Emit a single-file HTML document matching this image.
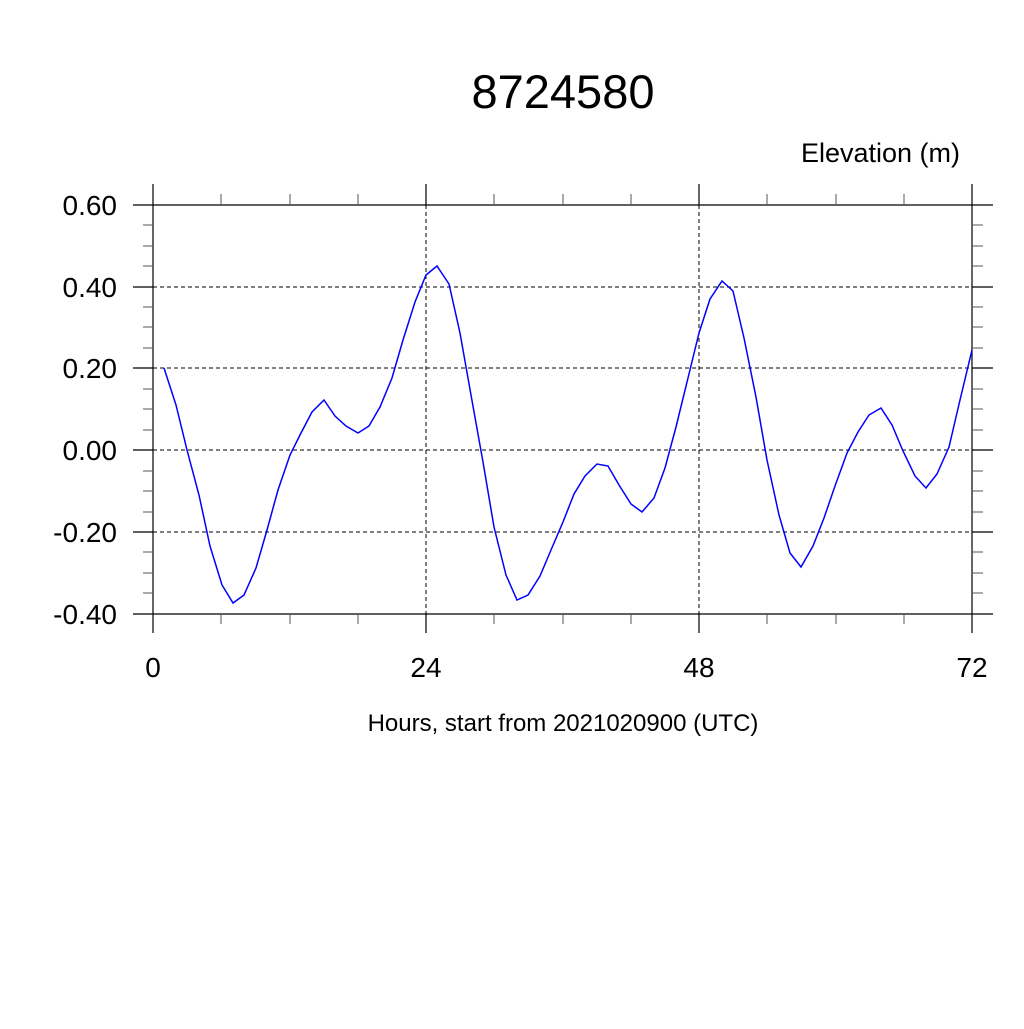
<!DOCTYPE html>
<html><head><style>body{margin:0;background:#fff}</style></head><body>
<svg width="1024" height="1024" xmlns="http://www.w3.org/2000/svg" font-family="Liberation Sans, sans-serif">
<rect width="1024" height="1024" fill="#fff"/>
<text x="563" y="108" font-size="47" text-anchor="middle">8724580</text>
<text x="960" y="162" font-size="27" text-anchor="end">Elevation (m)</text>
<g stroke="#000" stroke-width="1" stroke-dasharray="4,3">
<line x1="153" y1="287" x2="972" y2="287"/><line x1="153" y1="368" x2="972" y2="368"/>
<line x1="153" y1="450" x2="972" y2="450"/><line x1="153" y1="532" x2="972" y2="532"/>
<line x1="426" y1="205" x2="426" y2="614"/><line x1="699" y1="205" x2="699" y2="614"/>
</g>
<g stroke="#000" stroke-width="1.2">
<line x1="133" y1="205" x2="993" y2="205"/><line x1="133" y1="614" x2="993" y2="614"/>
<line x1="153" y1="184" x2="153" y2="633"/><line x1="972" y1="184" x2="972" y2="633"/>
<line x1="426" y1="184" x2="426" y2="205"/><line x1="426" y1="614" x2="426" y2="633"/>
<line x1="699" y1="184" x2="699" y2="205"/><line x1="699" y1="614" x2="699" y2="633"/>
<line x1="133" y1="287" x2="153" y2="287"/><line x1="133" y1="368" x2="153" y2="368"/><line x1="133" y1="450" x2="153" y2="450"/><line x1="133" y1="532" x2="153" y2="532"/>
<line x1="972" y1="287" x2="993" y2="287"/><line x1="972" y1="368" x2="993" y2="368"/><line x1="972" y1="450" x2="993" y2="450"/><line x1="972" y1="532" x2="993" y2="532"/>
</g>
<g stroke="#555" stroke-width="1">
<path d="M143 225H153M143 246H153M143 266H153M143 307H153M143 327H153M143 348H153M143 389H153M143 409H153M143 430H153M143 471H153M143 491H153M143 512H153M143 552H153M143 573H153M143 593H153"/>
<path d="M972 225H983M972 246H983M972 266H983M972 307H983M972 327H983M972 348H983M972 389H983M972 409H983M972 430H983M972 471H983M972 491H983M972 512H983M972 552H983M972 573H983M972 593H983"/>
<path d="M221 194V205M290 194V205M358 194V205M494 194V205M563 194V205M631 194V205M767 194V205M836 194V205M904 194V205"/>
<path d="M221 614V624M290 614V624M358 614V624M494 614V624M563 614V624M631 614V624M767 614V624M836 614V624M904 614V624"/>
</g>
<g font-size="28" text-anchor="end">
<text x="117" y="215">0.60</text><text x="117" y="297">0.40</text><text x="117" y="378">0.20</text>
<text x="117" y="460">0.00</text><text x="117" y="542">-0.20</text><text x="117" y="624">-0.40</text>
</g>
<g font-size="28" text-anchor="middle">
<text x="153" y="677">0</text><text x="426" y="677">24</text><text x="699" y="677">48</text><text x="972" y="677">72</text>
</g>
<text x="563" y="731" font-size="24" text-anchor="middle">Hours, start from 2021020900 (UTC)</text>
<polyline fill="none" stroke="#0000ff" stroke-width="1.5" points="164,368 176,405 187,450 199,495 210,546 222,585 233,603 244,595 256,568 267,530 278,490 290,455 301,433 312,412 324,400 335,416 346,426 358,433 369,426 380,407 392,378 403,340 415,302 426,275 437,266 449,284 460,333 471,395 483,462 494,527 506,575 517,600 528,595 540,576 551,550 563,522 574,494 585,476 597,464 608,466 619,485 631,504 642,512 654,498 665,468 676,427 688,378 699,333 710,299 722,281 733,291 744,338 756,397 767,460 779,515 790,553 801,567 813,546 824,518 835,486 847,453 858,432 869,415 881,408 892,425 903,451 915,476 926,488 937,474 949,447 960,400 972,350"/>
</svg>
</body></html>
